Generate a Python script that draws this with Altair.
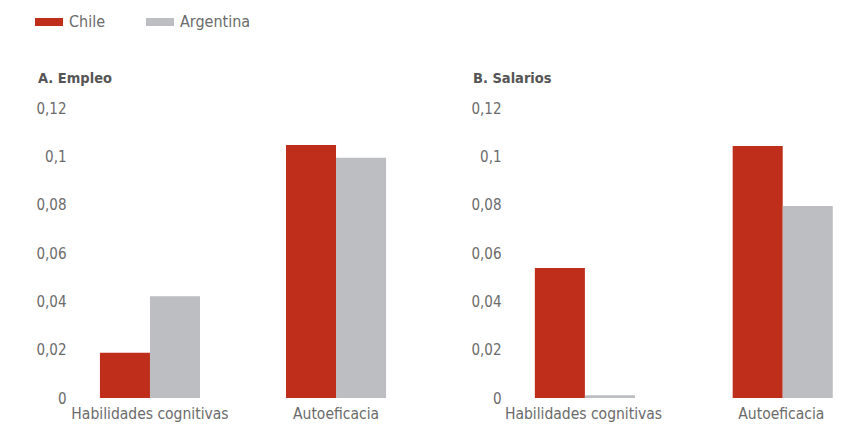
import altair as alt
import pandas as pd

categories = ["Habilidades cognitivas", "Autoeficacia"]
countries = ["Chile", "Argentina"]
chile_empleo = [0.0187, 0.1047]
argentina_empleo = [0.0421, 0.0994]
chile_salarios = [0.0538, 0.1043]
argentina_salarios = [0.0011, 0.0794]
y_ticks = [0, 0.02, 0.04, 0.06, 0.08, 0.1, 0.12]

FONT = "Liberation Sans Narrow, DejaVu Sans Condensed, sans-serif"
RED = "#BF2E1B"
GRAY = "#BDBEC1"
TXT = "#6b6b6b"


def frame(chile, arg):
    rows = []
    for i, c in enumerate(categories):
        rows.append({"cat": c, "country": "Chile", "value": chile[i]})
        rows.append({"cat": c, "country": "Argentina", "value": arg[i]})
    return pd.DataFrame(rows)


def panel(df, title, width, p_inner, p_outer, align, show_legend):
    legend = None
    if show_legend:
        legend = alt.Legend(
            orient="none", legendX=-40, legendY=-100, direction="horizontal",
            title=None, symbolType="M-1,-0.2857H1V0.2857H-1Z", symbolSize=784,
            symbolStrokeWidth=0, labelFont=FONT, labelFontSize=16,
            labelColor=TXT, labelOffset=6, columnPadding=40,
        )
    color = alt.Color(
        "country:N",
        scale=alt.Scale(domain=countries, range=[RED, GRAY]),
        legend=legend,
    )
    return (
        alt.Chart(df)
        .mark_bar()
        .encode(
            x=alt.X(
                "cat:N", sort=categories, title=None,
                scale=alt.Scale(paddingInner=p_inner, paddingOuter=p_outer, align=align),
                axis=alt.Axis(labelAngle=0, labelFont=FONT, labelFontSize=15.5,
                              labelColor=TXT, domain=False, ticks=False,
                              labelPadding=8),
            ),
            xOffset=alt.XOffset("country:N", sort=countries,
                                scale=alt.Scale(paddingInner=0, paddingOuter=0)),
            y=alt.Y(
                "value:Q", title=None,
                scale=alt.Scale(domain=[0, 0.12], nice=False),
                axis=alt.Axis(values=y_ticks, grid=False, domain=False, ticks=False,
                              labelFont=FONT, labelFontSize=15, labelColor=TXT,
                              labelPadding=9,
                              labelExpr="replace(format(datum.value, '.2~f'), '.', ',')"),
            ),
            color=color,
        )
        .properties(
            width=width, height=290,
            title=alt.TitleParams(title, anchor="start", frame="group", font=FONT,
                                  fontSize=14.5, fontWeight="bold", color="#555555",
                                  dx=-37, offset=15),
        )
    )


left = panel(frame(chile_empleo, argentina_empleo), "A. Empleo", 336, 0.462, 0.134, 0.5, True)
right = panel(frame(chile_salarios, argentina_salarios), "B. Salarios", 338, 0.508, 0.1083, 0.58, False)

chart = (
    alt.hconcat(left, right, spacing=59)
    .properties(padding={"left": 27, "top": 0, "right": 0, "bottom": 5})
    .configure_view(stroke=None)
    .resolve_scale(x="independent")
)

chart.save("out.html", embed_options={"renderer": "svg", "actions": False})
